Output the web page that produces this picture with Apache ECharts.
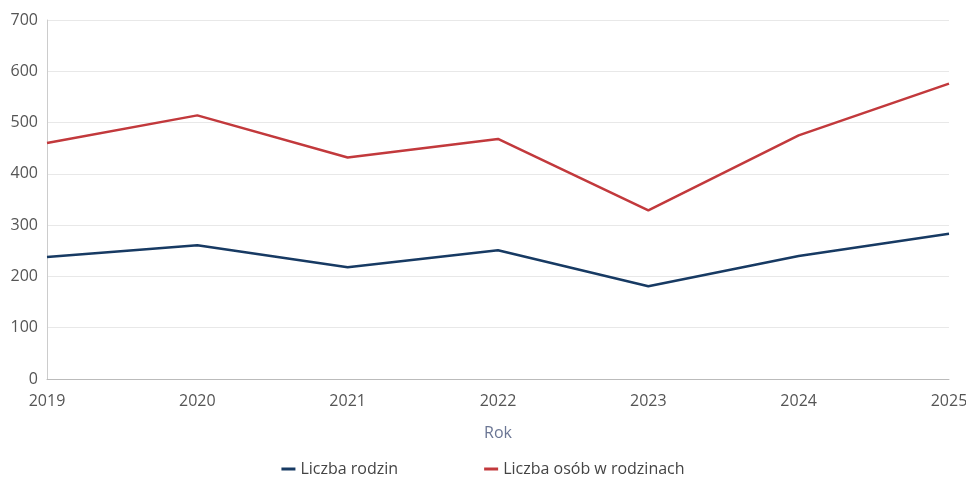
<!DOCTYPE html>
<html><head><meta charset="utf-8">
<script src="https://cdn.jsdelivr.net/npm/echarts@6/dist/echarts.min.js"></script>
<style>html,body{margin:0;padding:0;background:#fff}#c{width:966px;height:478px}</style>
</head><body><div id="c"></div>
<script>
const years = ['2019','2020','2021','2022','2023','2024','2025'];
const rodziny = [238, 261, 218, 251, 181, 240, 283];
const osoby = [460, 514, 432, 468, 329, 475, 576];
const chart = echarts.init(document.getElementById('c'));
const font = '"Open Sans", sans-serif';
chart.setOption({
  animation: false,
  textStyle: {fontFamily: font},
  grid: {left: 47, right: 17, top: 20, bottom: 99, containLabel: false, outerBoundsMode: 'none'},
  legend: {
    top: 456, left: 'center', itemGap: 86, icon: 'rect', itemWidth: 14, itemHeight: 3,
    textStyle: {fontFamily: font, fontSize: 16, color: '#444'},
    data: ['Liczba rodzin', 'Liczba osób w rodzinach']
  },
  xAxis: {
    type: 'category', data: years, boundaryGap: false,
    name: 'Rok', nameLocation: 'middle', nameGap: 46,
    nameTextStyle: {fontFamily: font, fontSize: 16, color: '#6b7694'},
    axisLine: {lineStyle: {color: '#bbb'}},
    axisTick: {show: false},
    axisLabel: {fontFamily: font, fontSize: 16, color: '#555', margin: 14},
    splitLine: {show: false}
  },
  yAxis: {
    type: 'value', min: 0, max: 700, interval: 100,
    axisLine: {show: true, lineStyle: {color: '#ccc'}},
    axisTick: {show: false},
    axisLabel: {fontFamily: font, fontSize: 16, color: '#555', margin: 9},
    splitLine: {lineStyle: {color: '#e8e8e8'}}
  },
  series: [
    {name: 'Liczba rodzin', type: 'line', data: rodziny, symbol: 'none',
      lineStyle: {width: 2.5, color: '#173a63'}, itemStyle: {color: '#173a63'}},
    {name: 'Liczba osób w rodzinach', type: 'line', data: osoby, symbol: 'none',
      lineStyle: {width: 2.5, color: '#c2393c'}, itemStyle: {color: '#c2393c'}}
  ]
});
</script></body></html>
